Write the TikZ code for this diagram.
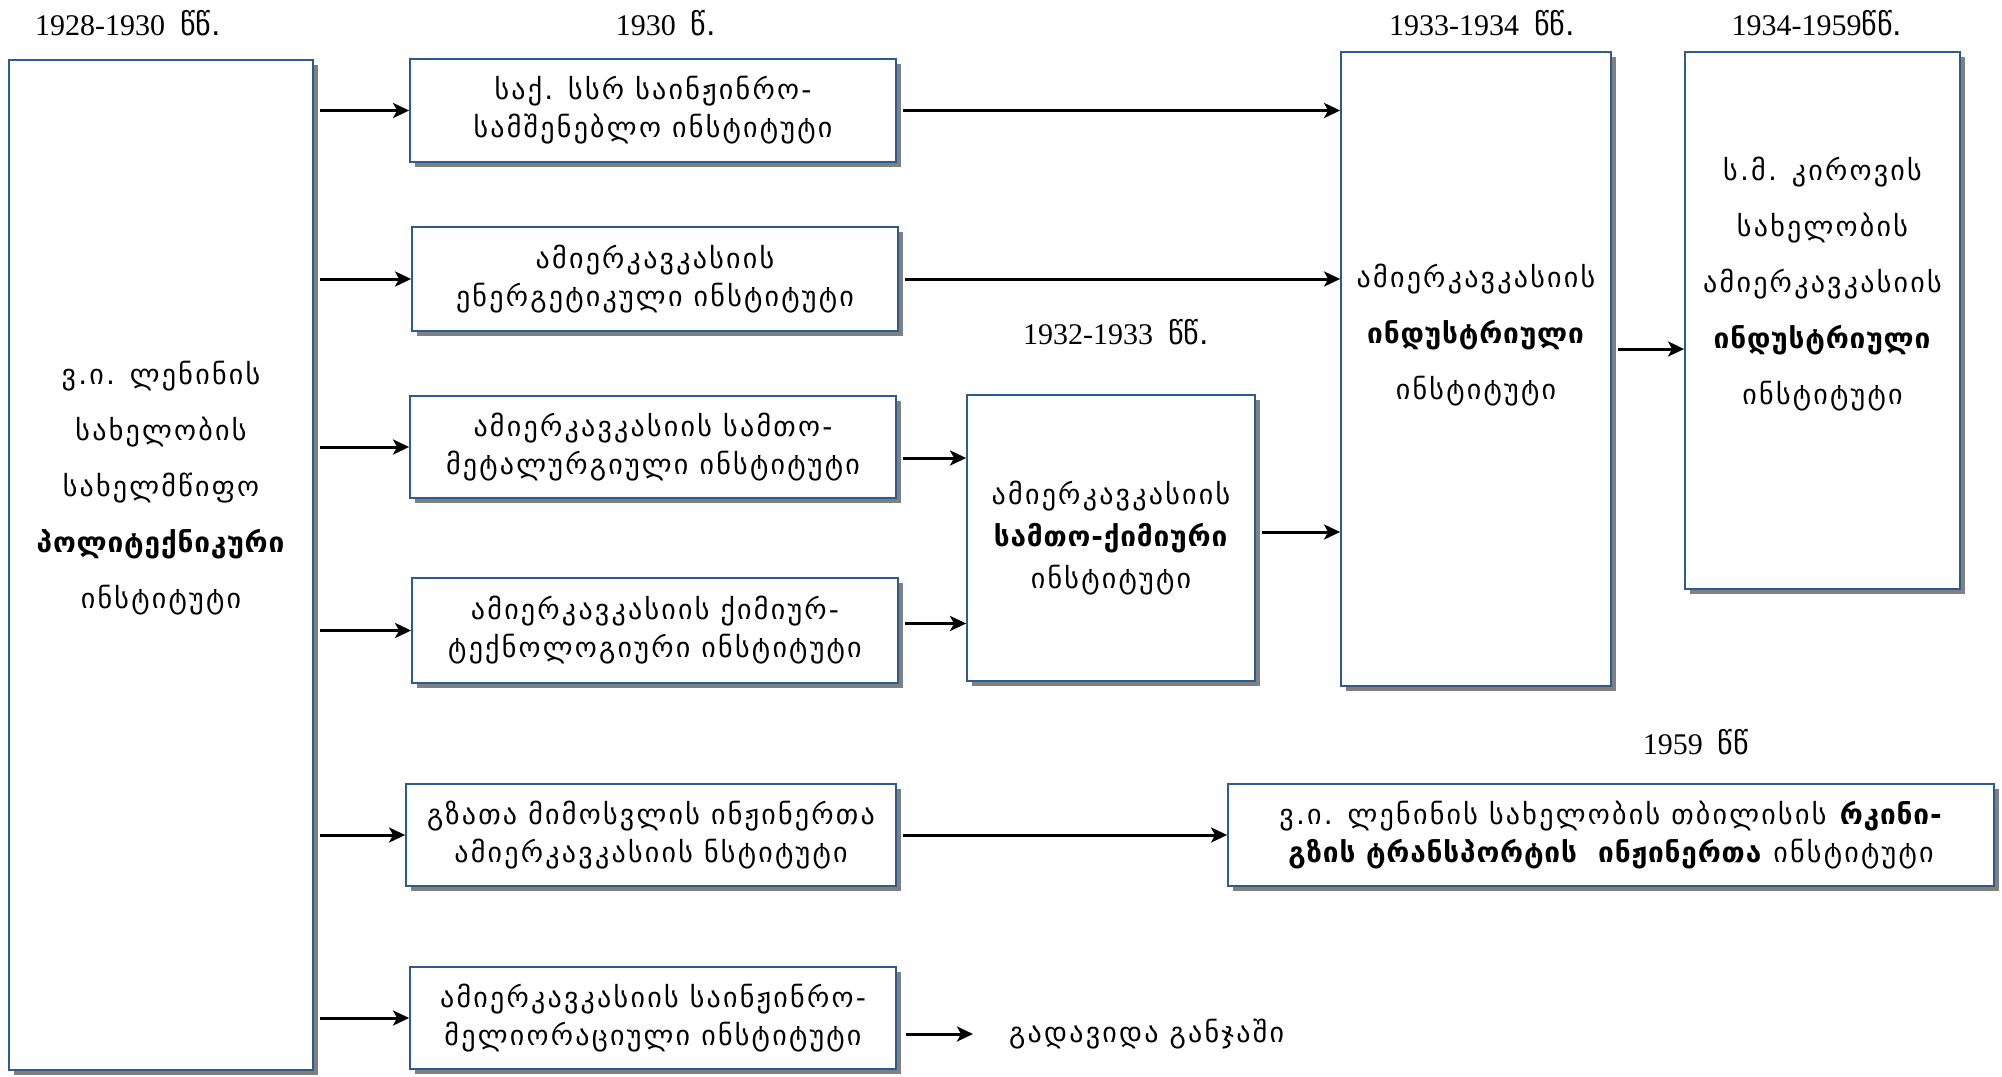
\documentclass[tikz,border=0pt]{standalone}
\usepackage{fontspec}
\setmainfont{Liberation Serif}
\newfontfamily\geo{DejaVu Sans}[LetterSpace=8, BoldFeatures={LetterSpace=3}]
\newfontfamily\geoplain{DejaVu Sans}
\usetikzlibrary{arrows.meta,shadows,calc}
\definecolor{boxblue}{HTML}{2F5B8C}
\definecolor{shgray}{HTML}{808080}
\newcommand\geotxt{\geo\fontsize{28}{38}\selectfont}
\newcommand\geotall{\geo\fontsize{28}{56}\selectfont}
\newcommand\yrfont{\fontsize{30}{34}\selectfont}
\newcommand\ww[1]{{\geoplain\fontsize{30}{32}\selectfont #1}}
\tikzset{
 box/.style={draw=boxblue, line width=1.8pt, fill=white, inner sep=0pt, align=center, font=\geotxt,
   drop shadow={shadow xshift=5pt, shadow yshift=-5pt, fill=shgray, opacity=1}},
 arr/.style={line width=3pt, -{Stealth[length=16pt,width=15pt,inset=4pt]}},
 yr/.style={font=\yrfont, inner sep=0pt},
 tall/.style={align=center, font=\geotall, inner sep=0pt}
}
\begin{document}
\begin{tikzpicture}[x=1pt,y=-1pt]
\useasboundingbox[fill=white] (0,0) rectangle (2002,1076);
% boxes
\node[box, minimum width=304pt, minimum height=1010pt] (L) at (161,565) {};
\node[tall] (Lt) at (161,488) {ვ.ი. ლენინის\\სახელობის\\სახელმწიფო\\\textbf{პოლიტექნიკური}\\ინსტიტუტი};
\node[box, minimum width=486pt, minimum height=103pt] (A) at (653,110.5) {საქ. სსრ საინჟინრო-\\სამშენებლო ინსტიტუტი};
\node[box, minimum width=486pt, minimum height=104pt] (B) at (655,279) {ამიერკავკასიის\\ენერგეტიკული ინსტიტუტი};
\node[box, minimum width=486pt, minimum height=102pt] (C) at (653,447) {ამიერკავკასიის სამთო-\\მეტალურგიული ინსტიტუტი};
\node[box, minimum width=486pt, minimum height=105pt] (D) at (655,630.5) {ამიერკავკასიის ქიმიურ-\\ტექნოლოგიური ინსტიტუტი};
\node[box, minimum width=490pt, minimum height=102pt] (E) at (651,835) {გზათა მიმოსვლის ინჟინერთა\\ამიერკავკასიის ნსტიტუტი};
\node[box, minimum width=486pt, minimum height=102pt] (F) at (653,1018) {ამიერკავკასიის საინჟინრო-\\მელიორაციული ინსტიტუტი};
\node[box, minimum width=288pt, minimum height=286pt, font=\geo\fontsize{28}{42}\selectfont] (G) at (1111,538) {ამიერკავკასიის\\\textbf{სამთო-ქიმიური}\\ინსტიტუტი};
\node[box, minimum width=270pt, minimum height=634pt] (H) at (1476,369) {};
\node[tall] (Ht) at (1476,335) {ამიერკავკასიის\\\textbf{ინდუსტრიული}\\ინსტიტუტი};
\node[box, minimum width=275pt, minimum height=537pt] (I) at (1822.5,320.5) {};
\node[tall] (It) at (1822.5,284) {ს.მ. კიროვის\\სახელობის\\ამიერკავკასიის\\\textbf{ინდუსტრიული}\\ინსტიტუტი};
\node[box, minimum width=766pt, minimum height=102pt] (J) at (1611,835) {ვ.ი. ლენინის სახელობის თბილისის \textbf{რკინი-}\\\textbf{გზის ტრანსპორტის \ ინჟინერთა} ინსტიტუტი};
\node[anchor=west, inner sep=0pt, font=\geotxt] (gad) at (1009,1034) {გადავიდა განჯაში};
% year labels
\node[yr] (y1) at (128,23) {1928-1930\ \ \ww{წწ.}};
\node[yr] (y2) at (666,23) {1930\ \ \ww{წ.}};
\node[yr] (y3) at (1482,23) {1933-1934\ \ \ww{წწ.}};
\node[yr] (y4) at (1817,23) {1934-1959\ww{წწ.}};
\node[yr] (y5) at (1116,332) {1932-1933\ \ \ww{წწ.}};
\node[yr] (y6) at (1696,742) {1959\ \ \ww{წწ}};
% arrows from L
\foreach \b in {A,B,C,D,E,F}{
  \draw[arr] ($(L.east|-\b.west)+(6,0)$) -- (\b.west);
}
\draw[arr] ($(A.east)+(6,0)$) -- (H.west|-A.east);
\draw[arr] ($(B.east)+(6,0)$) -- (H.west|-B.east);
\draw[arr] ($(C.east)+(6,11)$) -- ($(G.west|-C.east)+(0,11)$);
\draw[arr] ($(D.east)+(6,-7)$) -- ($(G.west|-D.east)+(0,-7)$);
\draw[arr] ($(G.east)+(6,-6)$) -- ($(H.west|-G.east)+(0,-6)$);
\draw[arr] ($(H.east)+(6,-20)$) -- ($(I.west|-H.east)+(0,-20)$);
\draw[arr] ($(E.east)+(6,0)$) -- (J.west|-E.east);
\draw[arr] ($(F.east)+(9,16)$) -- ($(gad.west)+(-36,0)$);
\end{tikzpicture}
\end{document}
